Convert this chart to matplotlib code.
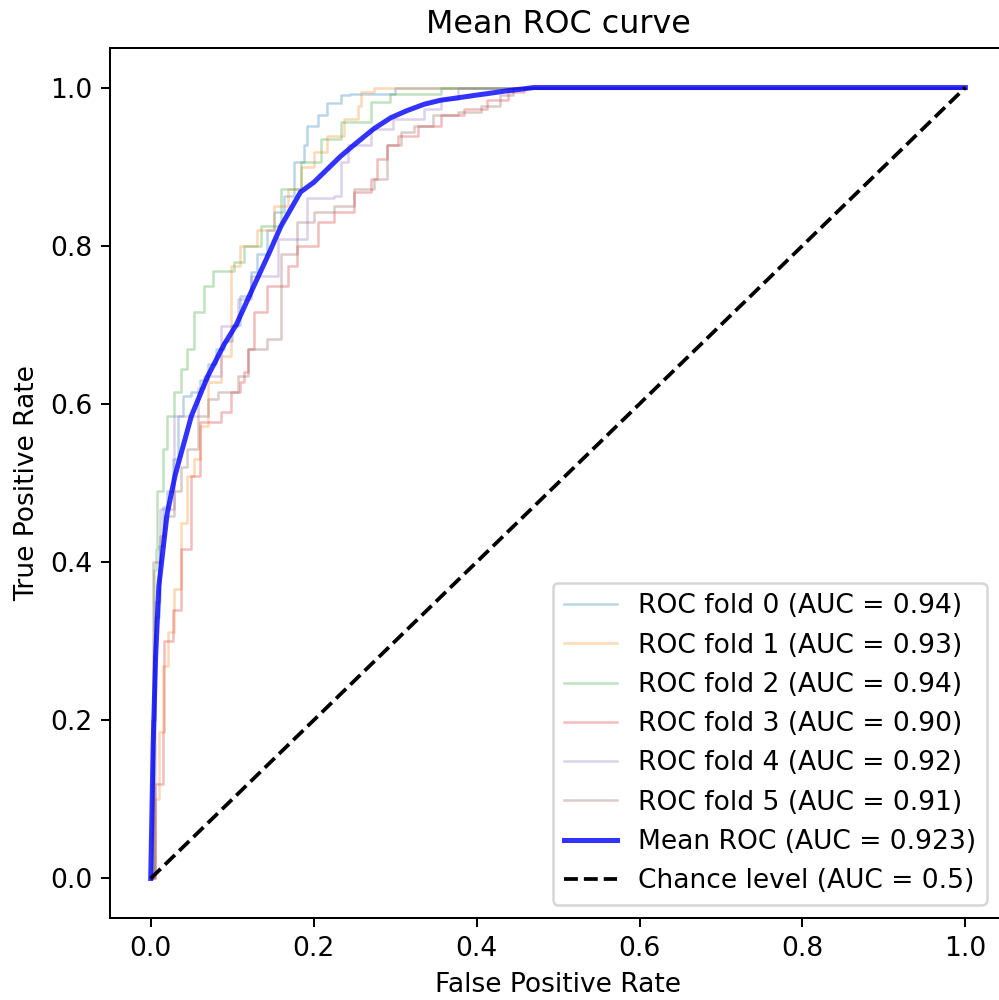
import matplotlib
matplotlib.use("Agg")
import matplotlib.pyplot as plt

plt.rcParams['font.size'] = 10.6

# fold ROC corners (fpr, tpr)
fold0_fpr = [0, 0.002, 0.002, 0.005, 0.01, 0.015, 0.02, 0.027, 0.033, 0.04, 0.05, 0.06, 0.07, 0.08, 0.09, 0.10,
             0.110, 0.123, 0.131, 0.143, 0.151, 0.163, 0.176, 0.188, 0.192, 0.205, 0.217, 0.233, 0.245, 0.30, 1.0]
fold0_tpr = [0, 0.05, 0.20, 0.33, 0.42, 0.47, 0.49, 0.53, 0.585, 0.61, 0.615, 0.63, 0.65, 0.67, 0.68, 0.70,
             0.737, 0.767, 0.79, 0.82, 0.843, 0.863, 0.906, 0.927, 0.952, 0.965, 0.98, 0.99, 0.992, 1.0, 1.0]

fold1_fpr = [0, 0.005, 0.01, 0.015, 0.021, 0.028, 0.037, 0.045, 0.053, 0.061, 0.07, 0.086, 0.098, 0.11, 0.131,
             0.151, 0.168, 0.184, 0.20, 0.217, 0.237, 0.254, 0.258, 0.274, 0.29, 1.0]
fold1_tpr = [0, 0.10, 0.185, 0.268, 0.311, 0.366, 0.45, 0.509, 0.53, 0.572, 0.628, 0.66, 0.775, 0.80, 0.82,
             0.85, 0.872, 0.90, 0.919, 0.939, 0.96, 0.977, 0.995, 0.999, 1.0, 1.0]

fold2_fpr = [0, 0.004, 0.006, 0.008, 0.015, 0.02, 0.028, 0.037, 0.045, 0.053, 0.065, 0.076, 0.102, 0.114,
             0.135, 0.16, 0.184, 0.209, 0.233, 0.27, 0.294, 0.356, 0.40, 1.0]
fold2_tpr = [0, 0.39, 0.416, 0.49, 0.543, 0.585, 0.615, 0.644, 0.67, 0.716, 0.749, 0.768, 0.78, 0.80,
             0.825, 0.872, 0.906, 0.935, 0.957, 0.982, 0.992, 0.999, 1.0, 1.0]

fold3_fpr = [0, 0.005, 0.015, 0.016, 0.027, 0.037, 0.049, 0.061, 0.086, 0.098, 0.11, 0.114, 0.119, 0.127,
             0.143, 0.168, 0.18, 0.205, 0.225, 0.249, 0.27, 0.278, 0.29, 0.303, 0.328, 0.356, 0.384, 0.413,
             0.438, 0.458, 1.0]
fold3_tpr = [0, 0.12, 0.185, 0.30, 0.34, 0.416, 0.509, 0.577, 0.59, 0.615, 0.628, 0.64, 0.67, 0.716,
             0.749, 0.775, 0.80, 0.83, 0.843, 0.868, 0.885, 0.91, 0.927, 0.939, 0.952, 0.965, 0.973, 0.984,
             0.995, 1.0, 1.0]

fold4_fpr = [0, 0.005, 0.012, 0.028, 0.058, 0.065, 0.086, 0.107, 0.123, 0.156, 0.192, 0.225, 0.233, 0.242,
             0.27, 0.298, 0.335, 0.356, 0.377, 1.0]
fold4_tpr = [0, 0.35, 0.467, 0.585, 0.62, 0.635, 0.699, 0.733, 0.762, 0.809, 0.86, 0.863, 0.906, 0.927,
             0.948, 0.96, 0.973, 0.986, 1.0, 1.0]

fold5_fpr = [0, 0.003, 0.012, 0.016, 0.028, 0.037, 0.045, 0.058, 0.07, 0.082, 0.107, 0.119, 0.143, 0.16,
             0.18, 0.20, 0.225, 0.249, 0.274, 0.29, 0.307, 0.323, 0.347, 0.377, 0.405, 0.429, 0.445, 1.0]
fold5_tpr = [0, 0.40, 0.433, 0.458, 0.49, 0.52, 0.543, 0.585, 0.606, 0.615, 0.635, 0.67, 0.682, 0.79,
             0.83, 0.843, 0.85, 0.872, 0.885, 0.927, 0.944, 0.952, 0.965, 0.969, 0.977, 0.99, 1.0, 1.0]

fold_auc = [0.94, 0.93, 0.94, 0.90, 0.92, 0.91]

mean_fpr = [0, 0.003, 0.006, 0.01, 0.02, 0.03, 0.05, 0.07, 0.09, 0.105, 0.127, 0.145, 0.16, 0.184, 0.20,
            0.217, 0.233, 0.249, 0.274, 0.295, 0.315, 0.336, 0.356, 0.377, 0.397, 0.418, 0.438, 0.455,
            0.47, 1.0]
mean_tpr = [0, 0.17, 0.28, 0.37, 0.46, 0.51, 0.585, 0.635, 0.675, 0.70, 0.75, 0.79, 0.825, 0.868, 0.880,
            0.897, 0.913, 0.927, 0.948, 0.962, 0.971, 0.979, 0.984, 0.987, 0.990, 0.993, 0.996, 0.998,
            1.0, 1.0]
mean_auc = 0.923

folds = [(fold0_fpr, fold0_tpr), (fold1_fpr, fold1_tpr), (fold2_fpr, fold2_tpr),
         (fold3_fpr, fold3_tpr), (fold4_fpr, fold4_tpr), (fold5_fpr, fold5_tpr)]

fig = plt.figure(figsize=(999 / 180, 1000 / 180), dpi=180)
ax = fig.add_axes([0.1101, 0.082, 0.897, 0.87])

for i, (fpr, tpr) in enumerate(folds):
    ax.plot(fpr, tpr, drawstyle='steps-post', lw=1, alpha=0.3,
            label='ROC fold %d (AUC = %.2f)' % (i, fold_auc[i]))

ax.plot(mean_fpr, mean_tpr, color='b', lw=2, alpha=0.8,
        label='Mean ROC (AUC = %.3f)' % mean_auc)
ax.plot([0, 1], [0, 1], 'k--', label='Chance level (AUC = 0.5)')

ax.set_xlim(-0.05, 1.05)
ax.set_ylim(-0.05, 1.05)
ax.set_xlabel('False Positive Rate')
ax.set_ylabel('True Positive Rate')
ax.set_title('Mean ROC curve')
ax.legend(loc='lower right', bbox_to_anchor=(0.993, 0.0))

fig.savefig('out.png', dpi=180)
